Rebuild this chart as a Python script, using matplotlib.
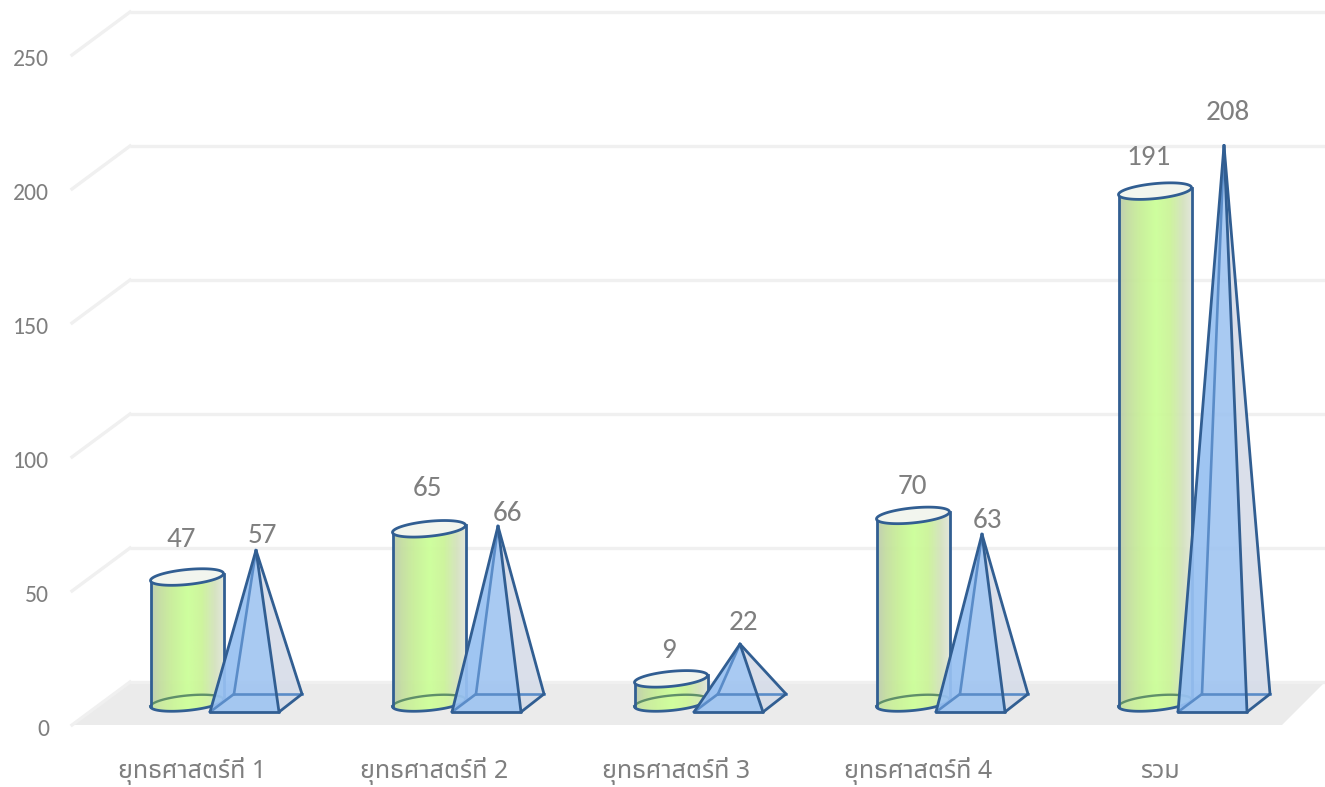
import numpy as np
import matplotlib
matplotlib.use("Agg")
from matplotlib import pyplot as plt
from matplotlib.patches import Polygon

categories = ["ยุทธศาสตร์ที่ 1", "ยุทธศาสตร์ที่ 2", "ยุทธศาสตร์ที่ 3", "ยุทธศาสตร์ที่ 4", "รวม"]
cylinder_values = [47, 65, 9, 70, 191]
pyramid_values = [57, 66, 22, 63, 208]
y_ticks = [0, 50, 100, 150, 200, 250]

# label offsets from the top of each shape, in pixels
cyl_label_off = [(-6, 38), (-2, 40), (-2, 28), (-1, 29), (-6, 34)]
pyr_label_off = [(6, 15), (10, 13), (3, 22), (6, 14), (4, 33)]

W, H = 1325, 787
PX_X = 242.0   # pixels per category
PX_Y = 2.68    # pixels per unit
FONT = ["Carlito", "Noto Sans Thai", "Noto Sans", "DejaVu Sans"]
THAI_FONT = ["Noto Sans Thai", "Noto Sans", "DejaVu Sans"]
GREY = "#7f7f7f"
EDGE = "#315e92"
LIGHT_EDGE = "#5a8cc8"

plt.rcParams["font.family"] = FONT

fig = plt.figure(figsize=(W / 100, H / 100), dpi=100)
ax = fig.add_axes([0, 0, 1, 1])
xlim = (-187 / PX_X, (W - 187) / PX_X)
ylim = ((703 - H) / PX_Y, 703 / PX_Y)


def dx(px):
    return px / PX_X


def dy(px):
    return px / PX_Y


# walls and floor
back_x0, back_x1 = dx(130 - 187), dx(W - 187)
front_x0, front_x1 = dx(72 - 187), dx(1282 - 187)
back_y, front_y = dy(21), dy(-22)
ax.add_patch(Polygon([(front_x0, front_y), (front_x1, front_y), (back_x1, back_y), (back_x0, back_y)],
                     facecolor="#ebebeb", edgecolor="none", zorder=1))
for t in y_ticks:
    ax.plot([back_x0, back_x1], [t + back_y, t + back_y], color="#f0f0f0", lw=2.4, zorder=1, solid_capstyle="butt")
    ax.plot([front_x0, back_x0], [t + front_y, t + back_y], color="#f0f0f0", lw=2.4, zorder=1)
    ax.text(dx(49 - 187), t - dy(26), str(t), color=GREY, fontsize=17, ha="right", va="center")

# gradient of the cylinders, left to right
stops = [0.0, 0.12, 0.3, 0.5, 0.7, 0.88, 1.0]
reds = [190, 196, 200, 204, 204, 212, 226]
greens = [204, 222, 240, 255, 244, 226, 230]
blues = [176, 160, 152, 153, 153, 190, 218]
s = np.linspace(0, 1, 128)
grad = np.stack([np.interp(s, stops, reds), np.interp(s, stops, greens), np.interp(s, stops, blues)], axis=1) / 255
grad = grad[np.newaxis, :, :]

t = np.linspace(0, 2 * np.pi, 90)
a, b, k = dx(36.5), dy(7.5), dy(3.5)


def ellipse(cx, cy, tt):
    return cx + a * np.cos(tt), cy + b * np.sin(tt) + k * np.cos(tt)


z = 3
for i, (cv, pv) in enumerate(zip(cylinder_values, pyramid_values)):
    # cylinder
    lower = np.linspace(np.pi, 2 * np.pi, 45)
    upper = np.linspace(0, np.pi, 45)
    bx, by = ellipse(i, 0, lower)
    tx, ty = ellipse(i, cv, upper)
    body = Polygon(np.column_stack([np.r_[bx, tx], np.r_[by, ty]]), facecolor="none", edgecolor="none", zorder=z)
    ax.add_patch(body)
    im = ax.imshow(grad, extent=(i - a, i + a, -dy(12), cv + dy(12)), aspect="auto", zorder=z, alpha=0.95)
    im.set_clip_path(body)
    ex, ey = ellipse(i, 0, t)
    ax.fill(ex, ey, color="#d6ffa0", alpha=0.35, lw=0, zorder=z)
    bkx, bky = ellipse(i, 0, upper)
    ax.plot(bkx, bky, color="#5f8f6a", lw=1.7, zorder=z)
    ax.plot(bx, by, color=EDGE, lw=2.0, zorder=z)
    ax.plot([i - a, i - a], [-k, cv - k], color=EDGE, lw=2.0, zorder=z)
    ax.plot([i + a, i + a], [k, cv + k], color=EDGE, lw=2.0, zorder=z)
    ex, ey = ellipse(i, cv, t)
    ax.fill(ex, ey, facecolor="#f2f5ee", edgecolor=EDGE, lw=2.0, zorder=z)
    off = cyl_label_off[i]
    ax.annotate(str(cv), (i, cv), xytext=off, textcoords="offset pixels", color=GREY, fontsize=21,
                ha="center", va="center", zorder=20)
    z += 1

    # pyramid
    c = i + dx(69)
    fl = (c - dx(46), -dy(9))
    fr = (c + dx(23), -dy(9))
    br = (c + dx(46), dy(9))
    bl = (c - dx(22), dy(9))
    apex = (c, pv)
    ax.add_patch(Polygon([fl, fr, br, bl], facecolor="#c9d6e8", alpha=0.55, edgecolor="none", zorder=z))
    ax.add_patch(Polygon([fr, br, apex], facecolor="#d5dbe8", alpha=0.75, edgecolor="none", zorder=z))
    ax.add_patch(Polygon([bl, br, apex], facecolor="#d5dbe8", alpha=0.45, edgecolor="none", zorder=z))
    ax.add_patch(Polygon([fl, bl, apex], facecolor="#98c1f2", alpha=0.65, edgecolor="none", zorder=z))
    ax.add_patch(Polygon([fl, fr, apex], facecolor="#98c1f2", alpha=0.8, edgecolor="none", zorder=z))
    for p, q in [(fl, bl), (bl, br), (bl, apex)]:
        ax.plot([p[0], q[0]], [p[1], q[1]], color=LIGHT_EDGE, lw=1.9, zorder=z)
    for p, q in [(fl, fr), (fr, br), (fl, apex), (fr, apex), (br, apex)]:
        ax.plot([p[0], q[0]], [p[1], q[1]], color=EDGE, lw=2.0, zorder=z, solid_capstyle="round")
    off = pyr_label_off[i]
    ax.annotate(str(pv), apex, xytext=off, textcoords="offset pixels", color=GREY, fontsize=21,
                ha="center", va="center", zorder=20)
    z += 1

    ax.text(i + dx(5), dy(703 - 771), categories[i], color=GREY, fontsize=18, ha="center", va="center",
            family=THAI_FONT)

ax.set_xlim(*xlim)
ax.set_ylim(*ylim)
ax.axis("off")

fig.savefig("out.png", dpi=100)
